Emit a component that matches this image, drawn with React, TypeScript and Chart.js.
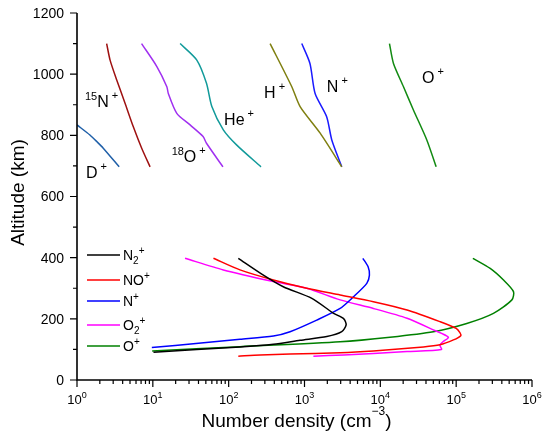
import React, { useEffect, useRef } from "react";
import { Chart, registerables } from "chart.js";

Chart.register(...registerables);

// ---------- Data (density in cm^-3, altitude in km) ----------
// Upper-altitude minor ions
const dPlusDensity = [1.0, 1.48, 1.85, 2.22, 3.6];
const dPlusAlt = [834, 801, 778, 758, 697];

const n15PlusDensity = [2.46, 2.73, 3.34, 4.3, 5.53, 7.13, 9.2];
const n15PlusAlt = [1100, 1046, 981, 905, 828, 758, 697];

const o18PlusDensity = [7.1, 11.3, 15.3, 16, 20.7, 31, 46, 51, 84];
const o18PlusAlt = [1100, 1025, 959, 937, 872, 834, 796, 774, 697];

const hePlusDensity = [22.9, 38, 51, 60, 85, 128, 267];
const hePlusAlt = [1100, 1046, 970, 894, 818, 768, 697];

const hPlusDensity = [352, 680, 875, 1610, 3100];
const hPlusAlt = [1100, 959, 894, 807, 697];

const nPlusTopDensity = [920, 1180, 1380, 1960, 2290, 3100];
const nPlusTopAlt = [1100, 1035, 937, 861, 785, 697];

const oPlusTopDensity = [13200, 14900, 20200, 27300, 41000, 54500];
const oPlusTopAlt = [1100, 1035, 959, 883, 785, 697];

// Lower ionosphere major ions
const n2PlusDensity = [10.2, 141, 389, 875, 1970, 3100, 3540, 3300, 2420, 1250, 525, 287, 134];
const n2PlusAlt = [91, 108, 117, 130, 142, 158, 180, 200, 218, 267, 305, 343, 398];

const noPlusDensity = [134, 260, 645, 2950, 8100, 37000, 61000, 92000, 115000, 112000, 100000, 61000, 22500, 8100, 2950, 1070, 389, 141, 63];
const noPlusAlt = [78, 82, 85, 89, 95, 108, 115, 131, 145, 155, 169, 191, 229, 256, 278, 300, 327, 360, 398];

const nPlusDensity = [9.7, 40, 141, 389, 645, 1450, 2950, 4420, 6630, 7180, 6900, 5880];
const nPlusAlt = [106, 120, 133, 144, 158, 196, 234, 272, 316, 343, 370, 398];

const o2PlusDensity = [1310, 3300, 8100, 22500, 64000, 61000, 67000, 79000, 50000, 22500, 8100, 2950, 1070, 389, 85, 26.6];
const o2PlusAlt = [78, 82, 87, 93, 100, 114, 125, 140, 164, 202, 234, 262, 300, 322, 360, 398];

const oPlusDensity = [9.8, 141, 2950, 13400, 50000, 138000, 310000, 543000, 570000, 421000, 281000, 166000];
const oPlusAlt = [95, 109, 125, 140, 158, 185, 218, 262, 289, 327, 365, 398];

// Axis ticks
const yMajorTicks = [0, 200, 400, 600, 800, 1000, 1200];
const yMinorTicks = [100, 300, 500, 700, 900, 1100];
const xDecadeExponents = [0, 1, 2, 3, 4, 5, 6];

// Legend entries: [base, subscript, superscript]
const legendLabels: [string, string, string][] = [
  ["N", "2", "+"],
  ["NO", "", "+"],
  ["N", "", "+"],
  ["O", "2", "+"],
  ["O", "", "+"],
];

// Curve labels (prefix superscript, base, superscript) anchored at data coords
const curveLabelText: [string, string, string][] = [
  ["15", "N", "+"],
  ["", "D", "+"],
  ["18", "O", "+"],
  ["", "He", "+"],
  ["", "H", "+"],
  ["", "N", "+"],
  ["", "O", "+"],
];
const curveLabelDensity = [1.275, 1.31, 17.7, 87, 293, 1970, 35500];
const curveLabelAlt = [894, 660, 714, 834, 921, 943, 970];

const FONT = '"Liberation Sans", Arial, Helvetica, sans-serif';

function pts(xs: number[], ys: number[]) {
  return xs.map((x, i) => ({ x, y: ys[i] }));
}

function ds(label: string, xs: number[], ys: number[], color: string, legend: boolean) {
  return {
    label,
    data: pts(xs, ys),
    borderColor: color,
    backgroundColor: color,
    borderWidth: 1.5,
    pointRadius: 0,
    showLine: true,
    fill: false,
    tension: 0.25,
    _legend: legend,
  } as any;
}

type Seg = { t: string; size: number; dy: number };

function drawRich(ctx: CanvasRenderingContext2D, segs: Seg[], x: number, y: number, align: "left" | "center") {
  let total = 0;
  for (const s of segs) {
    ctx.font = `${s.size}px ${FONT}`;
    total += ctx.measureText(s.t).width;
  }
  let cx = align === "center" ? x - total / 2 : x;
  ctx.textAlign = "left";
  ctx.textBaseline = "alphabetic";
  for (const s of segs) {
    ctx.font = `${s.size}px ${FONT}`;
    ctx.fillText(s.t, cx, y + s.dy);
    cx += ctx.measureText(s.t).width;
  }
}

const decorPlugin = {
  id: "decor",
  afterDraw(chart: any) {
    const ctx: CanvasRenderingContext2D = chart.ctx;
    const xs = chart.scales.x;
    const ys = chart.scales.y;
    const left = xs.getPixelForValue(1);
    const right = xs.getPixelForValue(1e6);
    const bottom = ys.getPixelForValue(0);
    const top = ys.getPixelForValue(1200);
    ctx.save();
    ctx.strokeStyle = "#000";
    ctx.fillStyle = "#000";

    // axis lines
    ctx.lineWidth = 1.6;
    ctx.beginPath();
    ctx.moveTo(left, top);
    ctx.lineTo(left, bottom);
    ctx.lineTo(right, bottom);
    ctx.stroke();

    // y ticks
    ctx.lineWidth = 1.2;
    ctx.beginPath();
    for (const v of yMajorTicks) {
      const p = ys.getPixelForValue(v);
      ctx.moveTo(left - 7, p);
      ctx.lineTo(left, p);
    }
    for (const v of yMinorTicks) {
      const p = ys.getPixelForValue(v);
      ctx.moveTo(left - 4, p);
      ctx.lineTo(left, p);
    }
    // x ticks
    for (const e of xDecadeExponents) {
      const p = xs.getPixelForValue(Math.pow(10, e));
      ctx.moveTo(p, bottom);
      ctx.lineTo(p, bottom + 7);
      if (e < 6) {
        for (let m = 2; m <= 9; m++) {
          const q = xs.getPixelForValue(m * Math.pow(10, e));
          ctx.moveTo(q, bottom);
          ctx.lineTo(q, bottom + 4);
        }
      }
    }
    ctx.stroke();

    // y tick labels
    ctx.font = `14px ${FONT}`;
    ctx.textAlign = "right";
    ctx.textBaseline = "middle";
    for (const v of yMajorTicks) {
      ctx.fillText(String(v), left - 13, ys.getPixelForValue(v) + 1);
    }
    // x tick labels
    for (const e of xDecadeExponents) {
      const p = xs.getPixelForValue(Math.pow(10, e));
      drawRich(ctx, [
        { t: "10", size: 13, dy: 0 },
        { t: String(e), size: 9, dy: -6 },
      ], p, bottom + 24, "center");
    }

    // axis titles
    drawRich(ctx, [
      { t: "Number density (cm", size: 19, dy: 0 },
      { t: "\u22123", size: 12, dy: -12 },
      { t: ")", size: 19, dy: 0 },
    ], (left + right) / 2 - 8, bottom + 47, "center");

    ctx.save();
    ctx.translate(24, (top + bottom) / 2 - 4);
    ctx.rotate(-Math.PI / 2);
    ctx.font = `19px ${FONT}`;
    ctx.textAlign = "center";
    ctx.textBaseline = "alphabetic";
    ctx.fillText("Altitude (km)", 0, 0);
    ctx.restore();

    // legend
    const legendDs = chart.data.datasets.filter((d: any) => d._legend);
    const legendY = [255, 280, 301, 325, 346];
    legendDs.forEach((d: any, i: number) => {
      const y = legendY[i];
      ctx.strokeStyle = d.borderColor;
      ctx.lineWidth = 1.5;
      ctx.beginPath();
      ctx.moveTo(87, y);
      ctx.lineTo(120, y);
      ctx.stroke();
      const [b, sub, sup] = legendLabels[i];
      ctx.fillStyle = "#000";
      ctx.font = `14px ${FONT}`;
      ctx.textAlign = "left";
      ctx.textBaseline = "alphabetic";
      const by = y + 5;
      ctx.fillText(b, 123, by);
      let cx = 123 + ctx.measureText(b).width;
      ctx.font = `10px ${FONT}`;
      if (sub) {
        ctx.fillText(sub, cx, by + 4);
        cx += ctx.measureText(sub).width;
      }
      ctx.fillText(sup, cx, by - 6);
    });

    // curve labels
    ctx.fillStyle = "#000";
    curveLabelText.forEach(([pre, base, sup], i) => {
      const px = xs.getPixelForValue(curveLabelDensity[i]);
      const py = ys.getPixelForValue(curveLabelAlt[i]);
      const segs: Seg[] = [];
      if (pre) segs.push({ t: pre, size: 11, dy: -7 });
      segs.push({ t: base, size: 16, dy: 0 });
      segs.push({ t: " " + sup, size: 11, dy: -8 });
      drawRich(ctx, segs, px, py, "left");
    });

    ctx.restore();
  },
};

export default function App() {
  const ref = useRef<HTMLCanvasElement>(null);
  useEffect(() => {
    document.body.style.margin = "0";
    const canvas = ref.current!;
    const chart = new Chart(canvas, {
      type: "scatter",
      data: {
        datasets: [
          ds("D+", dPlusDensity, dPlusAlt, "#1f5fa8", false),
          ds("15N+", n15PlusDensity, n15PlusAlt, "#9e1010", false),
          ds("18O+", o18PlusDensity, o18PlusAlt, "#a030f0", false),
          ds("He+", hePlusDensity, hePlusAlt, "#119a9a", false),
          ds("H+", hPlusDensity, hPlusAlt, "#7f7f10", false),
          ds("N+ top", nPlusTopDensity, nPlusTopAlt, "#1a1aff", false),
          ds("O+ top", oPlusTopDensity, oPlusTopAlt, "#128a12", false),
          ds("N2+", n2PlusDensity, n2PlusAlt, "#000000", true),
          ds("NO+", noPlusDensity, noPlusAlt, "#ff0000", true),
          ds("N+", nPlusDensity, nPlusAlt, "#0000ff", true),
          ds("O2+", o2PlusDensity, o2PlusAlt, "#ff00ff", true),
          ds("O+", oPlusDensity, oPlusAlt, "#008000", true),
        ],
      },
      options: {
        responsive: false,
        animation: false,
        devicePixelRatio: window.devicePixelRatio || 1,
        layout: { padding: { left: 77, right: 18, top: 13, bottom: 57 } },
        plugins: { legend: { display: false }, tooltip: { enabled: false } },
        scales: {
          x: { type: "logarithmic", min: 1, max: 1e6, display: false },
          y: { type: "linear", min: 0, max: 1200, display: false },
        },
      },
      plugins: [decorPlugin],
    });
    return () => chart.destroy();
  }, []);
  return (
    <div style={{ width: 550, height: 437, background: "#fff" }}>
      <canvas ref={ref} width={550} height={437} style={{ width: 550, height: 437, display: "block" }} />
    </div>
  );
}
